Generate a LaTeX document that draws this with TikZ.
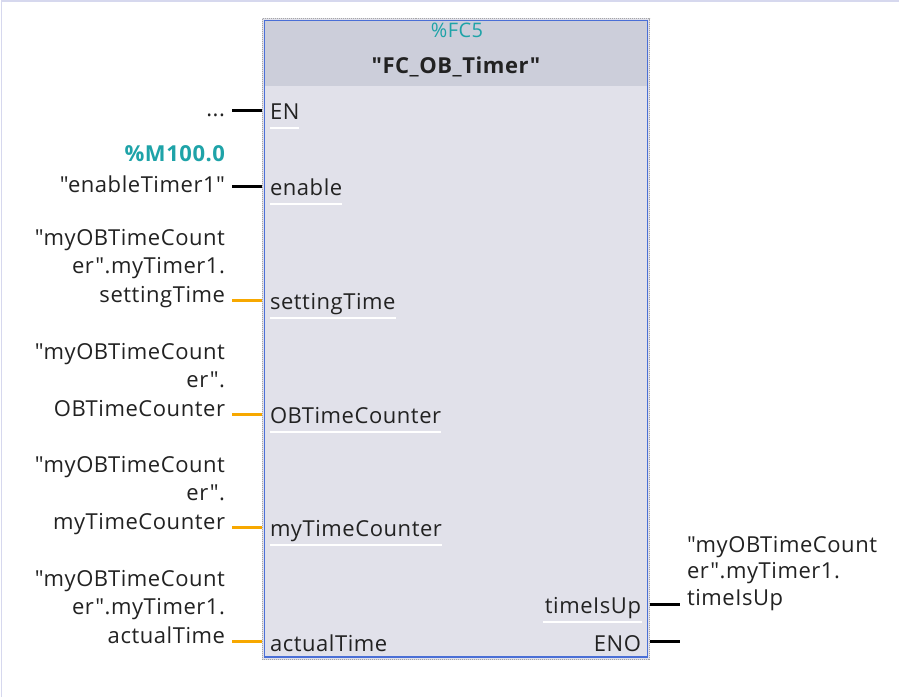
\documentclass[tikz,border=0pt]{standalone}
\usepackage{fontspec}
\setmainfont{Open Sans}[LetterSpace=2.5, Ligatures=TeXOff]
\newcommand{\qt}{\char34\relax}
\definecolor{framecol}{HTML}{D6D8EE}
\definecolor{bodycol}{HTML}{E1E1EA}
\definecolor{headcol}{HTML}{CCCEDA}
\definecolor{blkblue}{HTML}{4A6FD6}
\definecolor{tealtxt}{HTML}{1EA3A8}
\definecolor{wireorange}{HTML}{F7A800}
\definecolor{txt}{HTML}{222222}
\begin{document}
\begin{tikzpicture}[x=1pt,y=-1pt,
  every node/.style={inner sep=0pt, outer sep=0pt, text=txt},
  lbl/.style={font=\fontsize{22}{28.5}\selectfont},
  pinname/.style={font=\fontsize{22}{26}\selectfont},
  addr/.style={font=\fontsize{22}{26}\selectfont\bfseries, text=tealtxt},
  boolwire/.style={draw=black, line width=3pt},
  datawire/.style={draw=wireorange, line width=3pt},
  uline/.style={draw=white, line width=1.2pt}]
\useasboundingbox (0,0) rectangle (899,697);
\fill[white] (0,0) rectangle (899,697);
\draw[framecol, line width=1.5pt] (1.5,697) -- (1.5,0.75) -- (899,0.75);
% block
\fill[bodycol] (262,18) rectangle (650,660);
\fill[headcol] (264,20) rectangle (648,86);
\draw[gray!70, densely dotted, line width=1pt] (262.5,18.5) rectangle (649.5,659.5);
\draw[blkblue, line width=1.3pt] (264.5,20.5) rectangle (647.5,657);
\node[font=\fontsize{20}{22}\selectfont, text=tealtxt, anchor=base] (fc5) at (457,37) {\%FC5};
\node[font=\fontsize{22}{26}\selectfont\bfseries, anchor=base] (fcname) at (456,73) {\qt FC\_OB\_Timer\qt};
% pin points on the block edges
\foreach \n/\y in {EN/110, enable/186, settingTime/300, OBTimeCounter/414, myTimeCounter/527, actualTime/641}
  \coordinate (p\n) at (262,\y);
\coordinate (ptimeIsUp) at (650,604);
\coordinate (pENO) at (650,641);
% wire ends
\foreach \n/\y in {EN/110, enable/186, settingTime/300, OBTimeCounter/414, myTimeCounter/527, actualTime/641}
  \coordinate (w\n) at (232,\y);
\coordinate (wtimeIsUp) at (680,604);
\coordinate (wENO) at (680,641);
% pin names inside
\node[pinname, anchor=base west] (nEN) at (270,119) {EN};
\node[pinname, anchor=base west] (nenable) at (270,195) {enable};
\node[pinname, anchor=base west] (nsettingTime) at (270,309) {settingTime};
\node[pinname, anchor=base west] (nOBTimeCounter) at (270,423) {OBTimeCounter};
\node[pinname, anchor=base west] (nmyTimeCounter) at (270,536) {myTimeCounter};
\node[pinname, anchor=base west] (nactualTime) at (270,651) {actualTime};
\node[pinname, anchor=base east] (ntimeIsUp) at (641,613) {timeIsUp};
\node[pinname, anchor=base east] (nENO) at (641,651) {ENO};
% underlines
\foreach \n in {EN, enable, settingTime, OBTimeCounter, myTimeCounter}
  \draw[uline] ([yshift=-9pt]n\n.base west) -- ([yshift=-9pt]n\n.base east);
\draw[uline] (543,622) -- (642,622);
% wires
\draw[boolwire] (wEN) -- (pEN);
\draw[boolwire] (wenable) -- (penable);
\draw[datawire] (wsettingTime) -- (psettingTime);
\draw[datawire] (wOBTimeCounter) -- (pOBTimeCounter);
\draw[datawire] (wmyTimeCounter) -- (pmyTimeCounter);
\draw[datawire] (wactualTime) -- (pactualTime);
\draw[boolwire] (ptimeIsUp) -- (wtimeIsUp);
\draw[boolwire] (pENO) -- (wENO);
% operands
\node[lbl, anchor=base east] (oEN) at (225,116) {...};
\node[addr, anchor=base east] (aenable) at (225,161) {\%M100.0};
\node[lbl, anchor=base east] (oenable) at (225,192) {\qt enableTimer1\qt};
\node[lbl, anchor=base east, align=right] (osettingTime) at (225,302) {\qt myOBTimeCount\\er\qt.myTimer1.\\settingTime};
\node[lbl, anchor=base east, align=right] (oOBTimeCounter) at (225,416) {\qt myOBTimeCount\\er\qt.\\OBTimeCounter};
\node[lbl, anchor=base east, align=right] (omyTimeCounter) at (225,529) {\qt myOBTimeCount\\er\qt.\\myTimeCounter};
\node[lbl, anchor=base east, align=right] (oactualTime) at (225,643) {\qt myOBTimeCount\\er\qt.myTimer1.\\actualTime};
\node[lbl, anchor=base west, align=left, font=\fontsize{22}{26.5}\selectfont] (otimeIsUp) at (687,605) {\qt myOBTimeCount\\er\qt.myTimer1.\\timeIsUp};
\end{tikzpicture}
\end{document}
